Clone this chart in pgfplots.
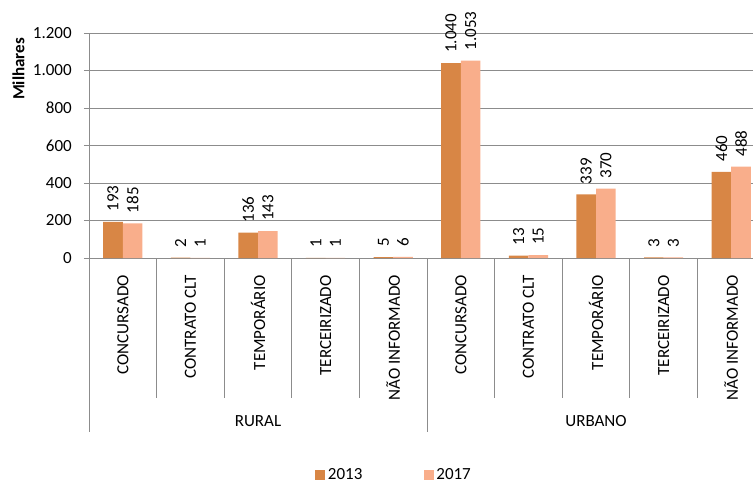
\documentclass[border=0pt]{standalone}
\usepackage{fontspec}
\setmainfont{Carlito}
\usepackage{pgfplots}
\pgfplotsset{compat=1.18}
\definecolor{c13}{HTML}{D88645}
\definecolor{c17}{HTML}{F9AE8B}
\definecolor{gridc}{HTML}{8C8C8C}
\begin{document}
\begin{tikzpicture}
\begin{axis}[
  at={(66.75pt,-193.5pt)}, anchor=south west,
  scale only axis, width=507pt, height=168.75pt,
  font=\fontsize{12.75pt}{15pt}\selectfont,
  xmin=-0.5, xmax=9.5, ymin=0, ymax=1200,
  axis x line*=bottom, axis y line*=left,
  axis line style={gridc, line width=0.7pt},
  xtick=data,
  xticklabels={CONCURSADO,CONTRATO CLT,TEMPORÁRIO,TERCEIRIZADO,NÃO INFORMADO,
               CONCURSADO,CONTRATO CLT,TEMPORÁRIO,TERCEIRIZADO,NÃO INFORMADO},
  xticklabel style={rotate=90, anchor=east, inner xsep=9pt},
  x tick style={draw=none},
  ytick={0,200,...,1200},
  ymajorgrids, major grid style={gridc, line width=0.7pt},
  y tick style={gridc, line width=0.7pt}, tick align=outside, major tick length=3.75pt,
  yticklabel style={inner xsep=0pt, xshift=-9pt},
  /pgf/number format/.cd, 1000 sep={.}, assume math mode=true, /pgfplots/.cd,
  ylabel={\bfseries Milhares},
  ylabel style={at={(axis description cs:-0.1043,0.84)}, anchor=center},
  ybar, bar width=0.29, axis on top=false,
  nodes near coords={\pgfmathprintnumber[1000 sep={.},assume math mode=true]{\pgfplotspointmeta}},
  every node near coord/.append style={rotate=90, anchor=west, inner xsep=7.5pt, black},
  legend columns=2,
  legend style={draw=none, fill=none, inner sep=0pt, at={(0.3343,-0.964)}, anchor=west,
                /tikz/every even column/.append style={column sep=44pt}},
  legend image code/.code={\fill[#1] (0pt,-3.75pt) rectangle (7.5pt,3.75pt);},
  clip=false,
]
\addplot[fill=c13, draw=none, bar shift=-0.145] coordinates {
  (0,193) (1,2) (2,136) (3,1) (4,5) (5,1040) (6,13) (7,339) (8,3) (9,460)};
\addlegendentry{2013}
\addplot[fill=c17, draw=none, bar shift=0.145] coordinates {
  (0,185) (1,1) (2,143) (3,1) (4,6) (5,1053) (6,15) (7,370) (8,3) (9,488)};
\addlegendentry{2017}
\end{axis}
\begin{scope}[x=0.75pt, y=-0.75pt, font=\fontsize{12.75pt}{15pt}\selectfont]
  \foreach \k in {1,2,3,4,6,7,8,9}
    \draw[gridc, line width=0.7pt] ({89+\k*67.6},258) -- ({89+\k*67.6},398);
  \foreach \k in {0,5,10}
    \draw[gridc, line width=0.7pt] ({89+\k*67.6},258) -- ({89+\k*67.6},432);
  \node at (258,421) {RURAL};
  \node at (596,421) {URBANO};
  \pgfresetboundingbox
  \path[use as bounding box] (0,0) rectangle (753,483);
\end{scope}
\end{tikzpicture}
\end{document}
